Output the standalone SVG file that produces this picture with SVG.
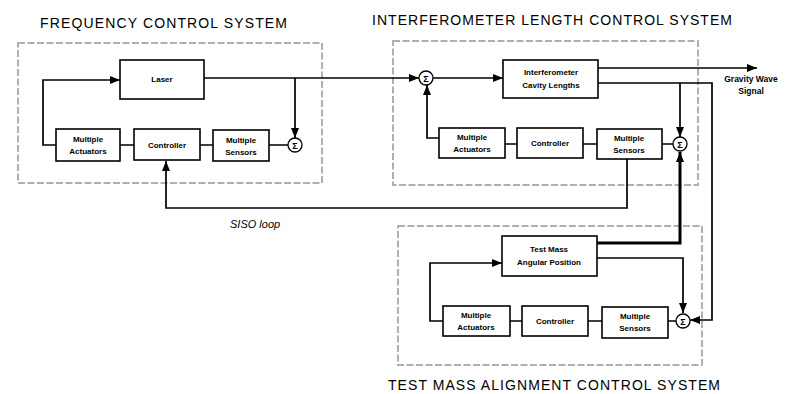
<svg xmlns="http://www.w3.org/2000/svg" width="785" height="394" viewBox="0 0 785 394">
<defs>
<marker id="arr" markerWidth="10" markerHeight="8" refX="10" refY="4" orient="auto" markerUnits="userSpaceOnUse">
<path d="M0,0 L10,4 L0,8 Z" fill="#000"/>
</marker>
</defs>
<style>
.frame{fill:none;stroke:#b0b0b0;stroke-width:2;stroke-dasharray:7 2.5}
.box{fill:#fff;stroke:#000;stroke-width:1.6}
.sum{fill:#fff;stroke:#000;stroke-width:1.3}
.lbl{font-family:"Liberation Sans",Arial,sans-serif;font-size:8px;font-weight:bold;text-anchor:middle;fill:#000}
.sg{font-family:"Liberation Sans",Arial,sans-serif;font-size:9px;font-weight:bold;text-anchor:middle;fill:#000}
.sig{font-family:"Liberation Sans",Arial,sans-serif;font-size:8.5px;font-weight:bold;text-anchor:middle;fill:#000}
.title{font-family:"Liberation Sans",Arial,sans-serif;font-size:14px;fill:#000}
.ital{font-family:"Liberation Sans",Arial,sans-serif;font-size:11px;font-style:italic;fill:#000}
.w{fill:none;stroke:#000;stroke-width:1.7}
.thick{fill:none;stroke:#000;stroke-width:3}
</style>
<rect width="785" height="394" fill="#fff"/>

<g id="frames">
<rect class="frame" x="18" y="43" width="304" height="140"/>
<rect class="frame" x="393" y="41" width="305" height="144"/>
<rect class="frame" x="398" y="226" width="304" height="139"/>
</g>

<g id="titles">
<text class="title" x="40" y="28" textLength="247" lengthAdjust="spacing">FREQUENCY CONTROL SYSTEM</text>
<text class="title" x="372" y="25" textLength="360" lengthAdjust="spacing">INTERFEROMETER LENGTH CONTROL SYSTEM</text>
<text class="title" x="388" y="390" textLength="332" lengthAdjust="spacing">TEST MASS ALIGNMENT CONTROL SYSTEM</text>
<text class="ital" x="230" y="228">SISO loop</text>
</g>

<g id="connectors">
<!-- FCS -->
<path class="w" d="M204,78 H419" marker-end="url(#arr)"/>
<path class="w" d="M295,78 V138" marker-end="url(#arr)"/>
<path class="w" d="M120,145 H134 M200,145 H213 M269,145 H288"/>
<path class="w" d="M56,145 H43 V80 H120" marker-end="url(#arr)"/>
<path class="w" d="M627,159 V208 H166 V161" marker-end="url(#arr)"/>
<!-- ILC -->
<path class="w" d="M433,78 H503" marker-end="url(#arr)"/>
<path class="w" d="M598,68 H757" marker-end="url(#arr)"/>
<path class="w" d="M598,83 H712 V320 H690" marker-end="url(#arr)"/>
<path class="w" d="M680,83 V137" marker-end="url(#arr)"/>
<path class="w" d="M505,144 H517 M583,144 H597 M662,144 H673"/>
<path class="w" d="M439,138 H427 V85" marker-end="url(#arr)"/>
<path class="thick" d="M597,243 H680 V152" marker-end="url(#arr)"/>
<!-- TMA -->
<path class="w" d="M597,258 H683 V313" marker-end="url(#arr)"/>
<path class="w" d="M510,321 H522 M588,321 H602 M668,321 H676"/>
<path class="w" d="M443,321 H430 V263 H502" marker-end="url(#arr)"/>
</g>

<g id="fcs-laser"><rect class="box" x="120" y="60" width="84" height="39"/><text class="lbl" x="162" y="82">Laser</text></g>
<g id="fcs-actuators"><rect class="box" x="56" y="129" width="64" height="32"/><text class="lbl" x="88" y="142">Multiple</text><text class="lbl" x="88" y="154">Actuators</text></g>
<g id="fcs-controller"><rect class="box" x="134" y="129" width="66" height="31"/><text class="lbl" x="167" y="148">Controller</text></g>
<g id="fcs-sensors"><rect class="box" x="213" y="130" width="56" height="31"/><text class="lbl" x="241" y="143">Multiple</text><text class="lbl" x="241" y="155">Sensors</text></g>
<g id="fcs-sum"><circle class="sum" cx="295" cy="145" r="7"/><text class="sg" x="295" y="148.5">Σ</text></g>

<g id="ilc-sum1"><circle class="sum" cx="426" cy="78" r="7"/><text class="sg" x="426" y="81.5">Σ</text></g>
<g id="ilc-cavity"><rect class="box" x="503" y="60" width="95" height="38"/><text class="lbl" x="551" y="75">Interferometer</text><text class="lbl" x="551" y="88">Cavity Lengths</text></g>
<g id="ilc-actuators"><rect class="box" x="439" y="128" width="66" height="30"/><text class="lbl" x="472" y="140">Multiple</text><text class="lbl" x="472" y="152">Actuators</text></g>
<g id="ilc-controller"><rect class="box" x="517" y="128" width="66" height="30"/><text class="lbl" x="550" y="146">Controller</text></g>
<g id="ilc-sensors"><rect class="box" x="597" y="129" width="65" height="30"/><text class="lbl" x="629" y="141">Multiple</text><text class="lbl" x="629" y="153">Sensors</text></g>
<g id="ilc-sum2"><circle class="sum" cx="680" cy="144" r="7"/><text class="sg" x="680" y="147.5">Σ</text></g>
<g id="gw-signal"><text class="sig" x="751" y="82">Gravity Wave</text><text class="sig" x="751" y="94">Signal</text></g>

<g id="tma-position"><rect class="box" x="502" y="236" width="95" height="40"/><text class="lbl" x="549" y="252">Test Mass</text><text class="lbl" x="549" y="265">Angular Position</text></g>
<g id="tma-actuators"><rect class="box" x="443" y="306" width="67" height="30"/><text class="lbl" x="476" y="318">Multiple</text><text class="lbl" x="476" y="330">Actuators</text></g>
<g id="tma-controller"><rect class="box" x="522" y="306" width="66" height="30"/><text class="lbl" x="555" y="324">Controller</text></g>
<g id="tma-sensors"><rect class="box" x="602" y="307" width="66" height="31"/><text class="lbl" x="635" y="319">Multiple</text><text class="lbl" x="635" y="331">Sensors</text></g>
<g id="tma-sum"><circle class="sum" cx="683" cy="321" r="7"/><text class="sg" x="683" y="324.5">Σ</text></g>
</svg>
